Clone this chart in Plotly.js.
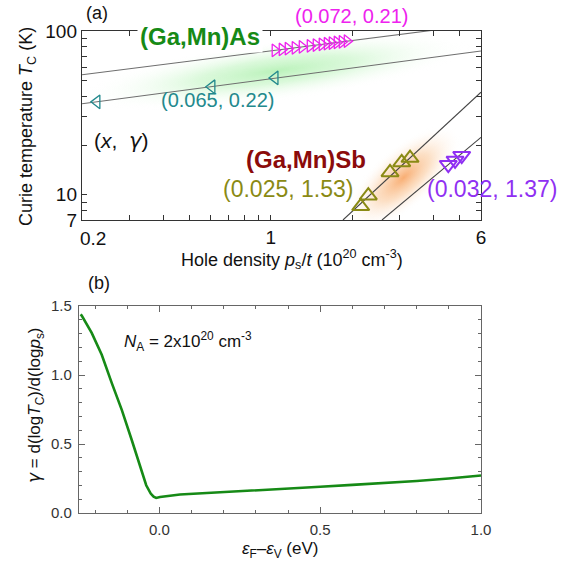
<!DOCTYPE html>
<html>
<head>
<meta charset="utf-8">
<script src="https://cdn.plot.ly/plotly-3.0.1.min.js"></script>
<style>html,body{margin:0;padding:0;background:#fff;}#chart{width:577px;height:563px;}</style>
</head>
<body>
<div id="chart"></div>
<script>
// ---------------- DATA ----------------
// (Ga,Mn)As, x = 0.072 (magenta, right triangles)
const asHighP = [1.036, 1.100, 1.158, 1.229, 1.305, 1.397, 1.470, 1.547, 1.615, 1.685, 1.758, 1.835, 1.915];
const asHighT = [76.1, 77.1, 78.0, 78.9, 79.9, 81.1, 82.0, 82.9, 83.6, 84.4, 85.1, 85.9, 86.7];
// (Ga,Mn)As, x = 0.065 (teal, left triangles)
const asLowP = [0.227, 0.605, 1.036];
const asLowT = [36.9, 45.6, 51.7];
// (Ga,Mn)Sb, x = 0.025 (olive, up triangles)
const sbLowP = [2.152, 2.296, 2.763, 3.052, 3.277];
const sbLowT = [8.49, 9.86, 13.68, 15.74, 16.74];
// (Ga,Mn)Sb, x = 0.032 (purple, down triangles)
const sbHighP = [4.54, 4.81, 5.09];
const sbHighT = [15.24, 16.18, 17.30];
// power-law fit lines (end points)
const fitAsHighP = [0.2, 6], fitAsHighT = [54.0, 110.1];
const fitAsLowP  = [0.2, 6], fitAsLowT  = [35.9, 75.5];
const fitSbLowP  = [1.85, 6], fitSbLowT = [7, 42.3];
const fitSbHighP = [2.58, 6], fitSbHighT = [7, 22.4];
// panel (b): gamma vs E_F - E_V
const gammaE = [-0.245, -0.2416, -0.2105, -0.1793, -0.148, -0.117, -0.086, -0.060, -0.041, -0.027, -0.018, -0.010, 0.002, 0.064, 0.2, 0.3, 0.4, 0.5, 0.6, 0.687, 0.8, 0.9, 1.0];
const gammaV = [1.44, 1.431, 1.305, 1.147, 0.941, 0.747, 0.529, 0.335, 0.201, 0.141, 0.118, 0.109, 0.116, 0.134, 0.150, 0.163, 0.177, 0.190, 0.204, 0.214, 0.232, 0.250, 0.272];
// tick labels (the first x label, 0.2, is drawn nudged right as in the original)
const topXTicks = [0.2,0.3,0.4,0.5,0.6,0.7,0.8,0.9,1,2,3,4,5,6];
const topXLabels = ['','','','','','','','','1','','','','','6'];
const topXFirstLabel = '0.2';
const topYTicks = [7,8,9,10,20,30,40,50,60,70,80,90,100];
const topYLabels = ['7','','','10','','','','','','','','','100'];

// ---------------- LAYOUT HELPERS ----------------
const W = 577, H = 563;
const X = px => px / W;
const Y = py => 1 - py / H;
const A = {x0: 82, x1: 481, y0: 31, y1: 220};   // panel (a) plot box (px)
const B = {x0: 79, x1: 481, y0: 306, y1: 513};  // panel (b) plot box (px)
const xr = [Math.log10(0.2), Math.log10(6)];
const yr = [Math.log10(7), 2];

// decorative glows, drawn in a canvas sized as panel (a)
function glowImage() {
  const cw = A.x1 - A.x0, ch = A.y1 - A.y0;
  const c = document.createElement('canvas'); c.width = cw; c.height = ch;
  const ctx = c.getContext('2d');
  const kx = cw / (xr[1] - xr[0]), ky = ch / (yr[1] - yr[0]);
  const toPx = (p, t) => [(Math.log10(p) - xr[0]) * kx, (yr[1] - Math.log10(t)) * ky];
  function glow(p, t, rx, ry, slope, stops) {
    const [cx, cy] = toPx(p, t);
    const rot = Math.atan(-slope * ky / kx);
    ctx.save(); ctx.translate(cx, cy); ctx.rotate(rot); ctx.scale(rx, ry);
    const g = ctx.createRadialGradient(0, 0, 0, 0, 0, 1);
    stops.forEach(s => g.addColorStop(s[0], s[1]));
    ctx.fillStyle = g; ctx.beginPath(); ctx.arc(0, 0, 1, 0, 2 * Math.PI); ctx.fill();
    ctx.restore();
  }
  glow(1.05, 57, 195, 30, 0.215, [[0, 'rgba(175,240,175,0.85)'], [0.4, 'rgba(195,245,195,0.6)'], [1, 'rgba(255,255,255,0)']]);
  glow(3.1, 12.7, 72, 30, 1.45, [[0, 'rgba(248,165,100,0.9)'], [0.45, 'rgba(250,198,150,0.55)'], [1, 'rgba(255,255,255,0)']]);
  return c.toDataURL('image/png');
}

const FONT = 'Liberation Sans, Arial, Helvetica, sans-serif';
const GAMMA = '<span style="font-family:\'DejaVu Sans\'"><i>γ</i></span>';

const traces = [
  {x: fitAsHighP, y: fitAsHighT, xaxis: 'x', yaxis: 'y', mode: 'lines', line: {color: '#6e6e6e', width: 1.1}, hoverinfo: 'skip'},
  {x: fitAsLowP, y: fitAsLowT, xaxis: 'x', yaxis: 'y', mode: 'lines', line: {color: '#6e6e6e', width: 1.1}, hoverinfo: 'skip'},
  {x: fitSbLowP, y: fitSbLowT, xaxis: 'x', yaxis: 'y', mode: 'lines', line: {color: '#444', width: 1.1}, hoverinfo: 'skip'},
  {x: fitSbHighP, y: fitSbHighT, xaxis: 'x', yaxis: 'y', mode: 'lines', line: {color: '#444', width: 1.1}, hoverinfo: 'skip'},
  {x: asHighP, y: asHighT, xaxis: 'x', yaxis: 'y', mode: 'markers',
   marker: {symbol: 'triangle-right-open', size: 11, color: '#ee22ee', line: {width: 1.3}}},
  {x: asLowP, y: asLowT, xaxis: 'x', yaxis: 'y', mode: 'markers',
   marker: {symbol: 'triangle-left-open', size: 12, color: '#23898d', line: {width: 1.3}}},
  {x: sbLowP, y: sbLowT, xaxis: 'x', yaxis: 'y', mode: 'markers',
   marker: {symbol: 'triangle-up-open', size: 15, color: '#8a8a14', line: {width: 2}}},
  {x: sbHighP, y: sbHighT, xaxis: 'x', yaxis: 'y', mode: 'markers',
   marker: {symbol: 'triangle-down-open', size: 15, color: '#8f30f2', line: {width: 2}}},
  {x: gammaE, y: gammaV, xaxis: 'x2', yaxis: 'y2', mode: 'lines', line: {color: '#168a16', width: 2.6}}
];

const axCommon = {showgrid: false, zeroline: false, showline: true, mirror: 'ticks', ticks: 'inside'};

const layout = {
  width: W, height: H, margin: {l: 0, r: 0, t: 0, b: 0},
  paper_bgcolor: '#fff', plot_bgcolor: 'rgba(0,0,0,0)', showlegend: false,
  font: {family: FONT, color: '#111'},
  xaxis: Object.assign({}, axCommon, {
    type: 'log', range: xr, domain: [X(A.x0), X(A.x1)], anchor: 'y',
    tickvals: topXTicks, ticktext: topXLabels, ticklen: 5, tickwidth: 1, tickcolor: '#333',
    linecolor: '#333', linewidth: 1.2, tickfont: {size: 19, color: '#111'}, ticklabelstandoff: 0}),
  yaxis: Object.assign({}, axCommon, {
    type: 'log', range: yr, domain: [Y(A.y1), Y(A.y0)], anchor: 'x',
    tickvals: topYTicks, ticktext: topYLabels, ticklen: 5, tickwidth: 1, tickcolor: '#333',
    linecolor: '#333', linewidth: 1.2, tickfont: {size: 19, color: '#111'}, ticklabelstandoff: 0}),
  xaxis2: Object.assign({}, axCommon, {
    range: [-0.25, 1.0], domain: [X(B.x0), X(B.x1)], anchor: 'y2',
    tick0: 0, dtick: 0.5, tickformat: '.1f', ticklen: 6, tickwidth: 1, tickcolor: '#666',
    minor: {dtick: 0.1, ticklen: 3, tickcolor: '#666', ticks: 'inside'},
    linecolor: '#666', linewidth: 1.2, tickfont: {size: 15, color: '#333'}, ticklabelstandoff: 3}),
  yaxis2: Object.assign({}, axCommon, {
    range: [0, 1.5], domain: [Y(B.y1), Y(B.y0)], anchor: 'x2',
    tick0: 0, dtick: 0.5, tickformat: '.1f', ticklen: 6, tickwidth: 1, tickcolor: '#666',
    minor: {dtick: 0.1, ticklen: 3, tickcolor: '#666', ticks: 'inside'},
    linecolor: '#666', linewidth: 1.2, tickfont: {size: 15, color: '#333'}, ticklabelstandoff: 3}),
  images: [{source: glowImage(), xref: 'paper', yref: 'paper', x: X(A.x0), y: Y(A.y0),
            sizex: X(A.x1) - X(A.x0), sizey: Y(A.y0) - Y(A.y1), xanchor: 'left', yanchor: 'top',
            sizing: 'stretch', layer: 'below'}],
  annotations: [
    {text: topXFirstLabel, x: X(93), y: Y(238), font: {size: 19, color: '#111'}},
    {text: '(a)', x: X(97), y: Y(13), font: {size: 18, color: '#111'}},
    {text: '(b)', x: X(99), y: Y(283), font: {size: 18, color: '#111'}},
    {text: '<b>(Ga,Mn)As</b>', x: X(200), y: Y(36), font: {size: 24, color: '#168a16'}, bgcolor: '#fff', borderpad: 2},
    {text: '(0.072, 0.21)', x: X(351), y: Y(16), font: {size: 20, color: '#ee22ee'}},
    {text: '(0.065, 0.22)', x: X(217), y: Y(100), font: {size: 20, color: '#23898d'}},
    {text: '(<i>x</i>,  ' + GAMMA + ')', x: X(121), y: Y(141), font: {size: 21, color: '#111'}},
    {text: '<b>(Ga,Mn)Sb</b>', x: X(306), y: Y(159), font: {size: 24, color: '#8b0b0b'}},
    {text: '(0.025, 1.53)', x: X(288), y: Y(189), font: {size: 23, color: '#8a8a14'}},
    {text: '(0.032, 1.37)', x: X(492), y: Y(189), font: {size: 23, color: '#8f30f2'}},
    {text: 'Curie temperature <i>T</i><sub>C</sub> (K)', x: X(28), y: Y(127), textangle: -90, font: {size: 18, color: '#111'}},
    {text: 'Hole density <i>p</i><sub>s</sub>/<i>t</i> (10<sup>20</sup> cm<sup>-3</sup>)', x: X(292), y: Y(259), font: {size: 18, color: '#111'}},
    {text: '<i>N</i><sub>A</sub> = 2x10<sup>20</sup> cm<sup>-3</sup>', x: X(122), y: Y(341), xanchor: 'left', font: {size: 17, color: '#111'}},
    {text: GAMMA + ' = d(log<i>T</i><sub>C</sub>)/d(log<i>p</i><sub>s</sub>)', x: X(36), y: Y(405), textangle: -90, font: {size: 17, color: '#111'}},
    {text: '<i>ε</i><sub>F</sub>–<i>ε</i><sub>V</sub> (eV)', x: X(280), y: Y(550), font: {size: 17, color: '#111'}}
  ].map(a => Object.assign({xref: 'paper', yref: 'paper', showarrow: false, xanchor: 'center', yanchor: 'middle'}, a))
};

Plotly.newPlot('chart', traces, layout, {staticPlot: true, displayModeBar: false});
</script>
</body>
</html>
